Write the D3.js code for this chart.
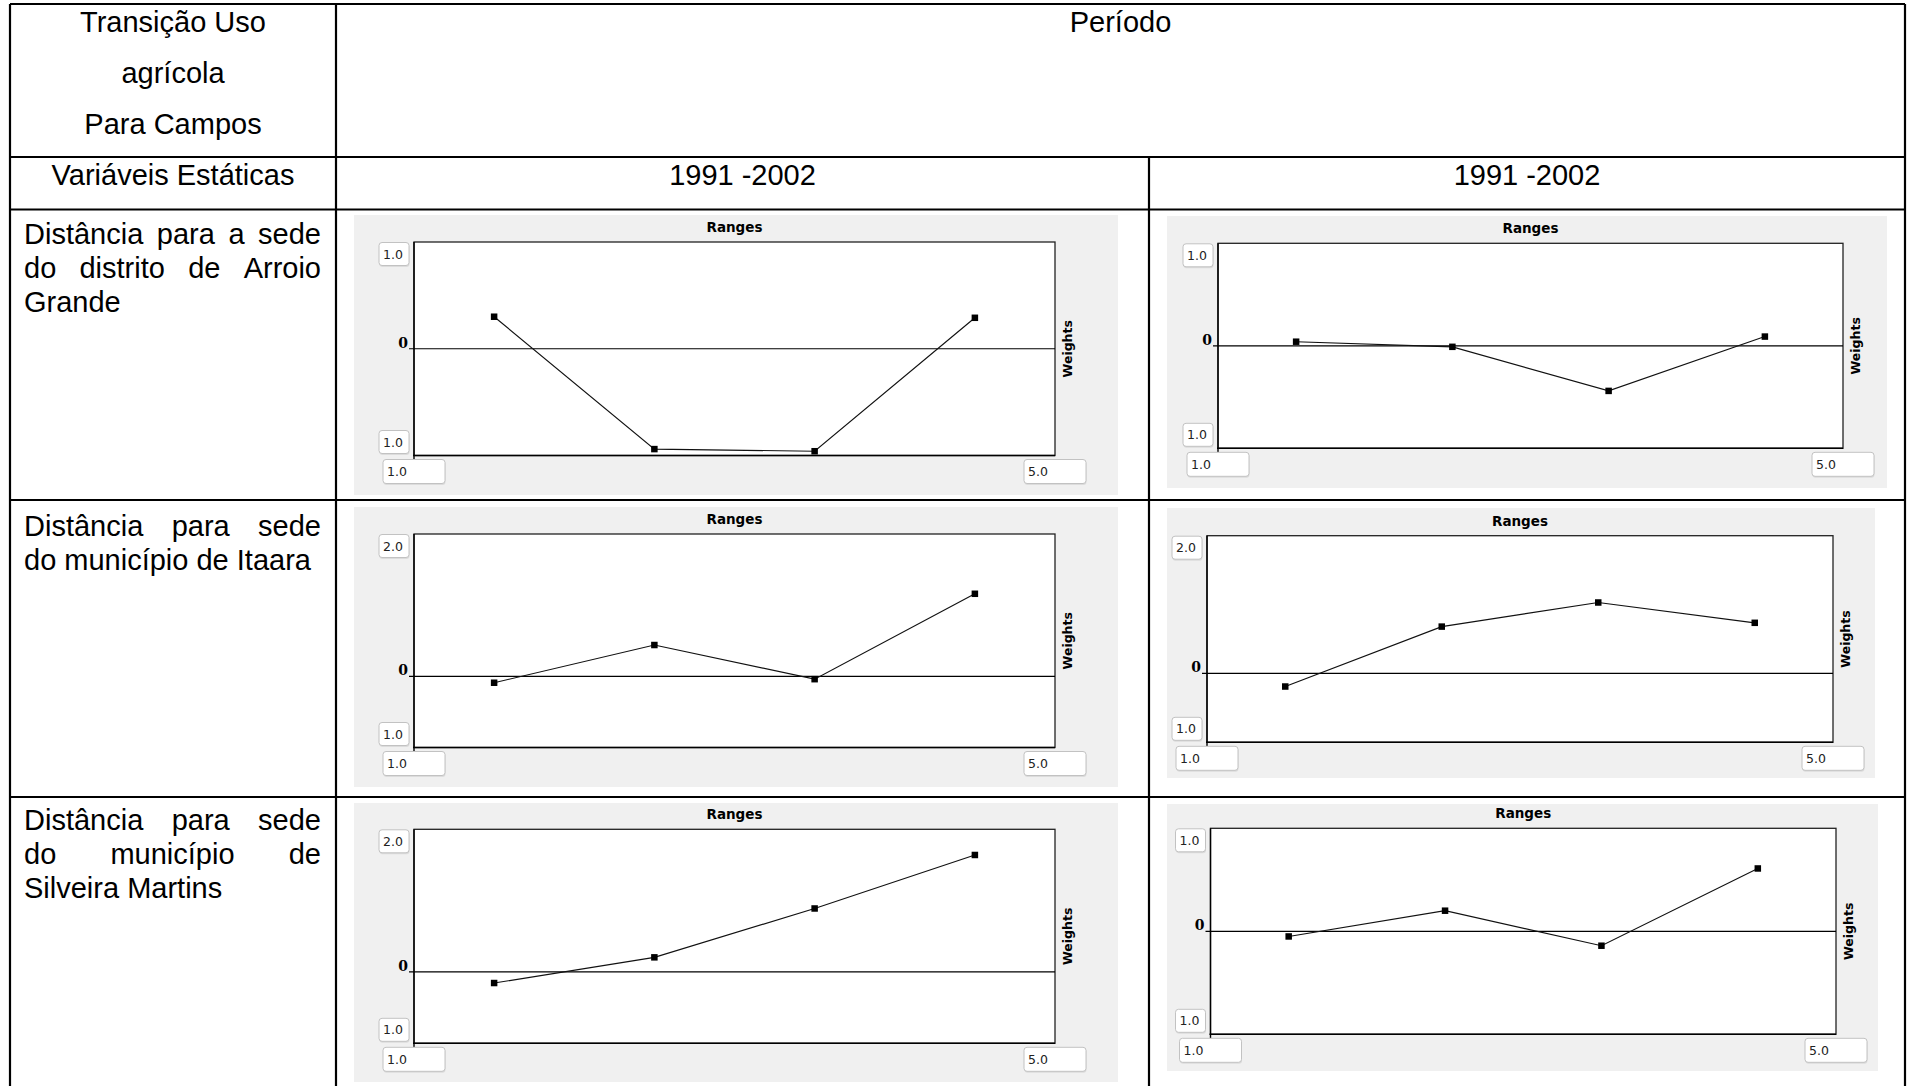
<!DOCTYPE html>
<html lang="pt">
<head>
<meta charset="utf-8">
<title>Transição Uso agrícola para Campos — pesos por faixa</title>
<script src="https://cdn.jsdelivr.net/npm/d3@7/dist/d3.min.js"></script>
<style>
  html, body { margin: 0; padding: 0; background: #fff; }
  svg { display: block; }
  .cell { font-family: "Liberation Sans", Arial, Helvetica, sans-serif; font-size: 29px; fill: #000; }
  .ui { font-family: "DejaVu Sans", Tahoma, Verdana, sans-serif; }
</style>
</head>
<body>
<script>
// ---- Table text ----
const headerLines = ["Transição Uso", "agrícola", "Para Campos"];
const periodTitle = "Período";
const staticVarsTitle = "Variáveis Estáticas";
const periods = ["1991 -2002", "1991 -2002"];

// Row labels: each line, with a flag telling whether it is justified
const rowLabels = [
  [["Distância para a sede", true], ["do distrito de Arroio", true], ["Grande", false]],
  [["Distância para sede", true], ["do município de Itaara", false]],
  [["Distância para sede", true], ["do município de", true], ["Silveira Martins", false]]
];

// ---- Chart values ----
const xDomain = [1.0, 5.0];
const rangeMidpoints = [1.5, 2.5, 3.5, 4.5];
const xTickLabels = ["1.0", "5.0"];
const yMin = -1;
const yMaxValues = [1, 1, 2, 2, 2, 1];
const yTopLabels = ["1.0", "1.0", "2.0", "2.0", "2.0", "1.0"];
const yBottomLabel = "1.0";

// Weights per range (row = variable, column = period)
const weightsArroioGrandeA = [0.30, -0.94, -0.96, 0.29];
const weightsArroioGrandeB = [0.04, -0.01, -0.44, 0.09];
const weightsItaaraA = [-0.09, 0.44, -0.04, 1.16];
const weightsItaaraB = [-0.19, 0.68, 1.03, 0.735];
const weightsSilveiraA = [-0.155, 0.205, 0.89, 1.64];
const weightsSilveiraB = [-0.05, 0.20, -0.14, 0.61];

const panelSeries = [
  weightsArroioGrandeA, weightsArroioGrandeB,
  weightsItaaraA, weightsItaaraB,
  weightsSilveiraA, weightsSilveiraB
];

// ---- Layout ----
const W = 1908, H = 1086;
const svg = d3.select("body").append("svg").attr("width", W).attr("height", H);

const tbl = { left: 10, right: 1905, top: 4, col1: 336, col2: 1149,
              rows: [157, 209.5, 500, 797], bottom: H + 2 };

// panel frames: grey window and inner plot box
const panelFrames = [
  { bg: [354, 215, 1118, 495], plot: [414, 242, 1055, 455.5] },
  { bg: [1167, 216, 1887, 488], plot: [1218, 243.3, 1843, 448.3] },
  { bg: [354, 507, 1118, 787], plot: [414, 534, 1055, 747.5] },
  { bg: [1167, 508, 1875, 778], plot: [1207, 535.7, 1833, 742.3] },
  { bg: [354, 803, 1118, 1082], plot: [414, 829.3, 1055, 1043.3] },
  { bg: [1167, 804, 1878, 1071], plot: [1210.5, 828.3, 1836, 1034.3] }
];

// ---- Charts ----
panelFrames.forEach((f, i) => {
  const g = svg.append("g").attr("class", "panel");
  const [bx0, by0, bx1, by1] = f.bg;
  const [pl, pt, pr, pb] = f.plot;

  g.append("rect").attr("x", bx0).attr("y", by0)
    .attr("width", bx1 - bx0).attr("height", by1 - by0).attr("fill", "#f0f0f0");

  const x = d3.scaleLinear().domain(xDomain).range([pl, pr]);
  const y = d3.scaleLinear().domain([yMin, yMaxValues[i]]).range([pb, pt]);

  // plot box
  g.append("rect").attr("x", pl).attr("y", pt)
    .attr("width", pr - pl).attr("height", pb - pt)
    .attr("fill", "#fff").attr("stroke", "#222").attr("stroke-width", 1.3);

  // axis lines (left and bottom) drawn a little past the corner
  g.append("line").attr("x1", pl).attr("x2", pl).attr("y1", pt).attr("y2", pb + 4)
    .attr("stroke", "#000").attr("stroke-width", 1.4);
  g.append("line").attr("x1", pl - 1).attr("x2", pr).attr("y1", pb).attr("y2", pb)
    .attr("stroke", "#000").attr("stroke-width", 1.4);

  // zero line with a short tick
  g.append("line").attr("x1", pl - 5).attr("x2", pr).attr("y1", y(0)).attr("y2", y(0))
    .attr("stroke", "#000").attr("stroke-width", 1.2);
  g.append("text").attr("x", pl - 6).attr("y", y(0) - 1)
    .attr("text-anchor", "end").attr("font-size", 14).attr("font-weight", "bold")
    .attr("font-family", "'DejaVu Serif', 'Liberation Serif', serif")
    .attr("fill", "#000").text("0");

  // series line and square markers
  const pts = rangeMidpoints.map((v, k) => [v, panelSeries[i][k]]);
  g.append("path").datum(pts)
    .attr("fill", "none").attr("stroke", "#111").attr("stroke-width", 1.15)
    .attr("d", d3.line().x(d => x(d[0])).y(d => y(d[1])));
  g.selectAll("rect.mk").data(pts).enter().append("rect").attr("class", "mk")
    .attr("x", d => x(d[0]) - 3.25).attr("y", d => y(d[1]) - 3.25)
    .attr("width", 6.5).attr("height", 6.5).attr("fill", "#000");

  // titles
  g.append("text").attr("class", "ui").attr("x", (pl + pr) / 2).attr("y", pt - 10)
    .attr("text-anchor", "middle").attr("font-size", 13.5).attr("font-weight", "bold")
    .attr("fill", "#000").text("Ranges");
  g.append("text").attr("class", "ui")
    .attr("transform", `translate(${pr + 17},${(pt + pb) / 2}) rotate(-90)`)
    .attr("text-anchor", "middle").attr("font-size", 12.5).attr("font-weight", "bold")
    .attr("fill", "#000").text("Weights");

  // value boxes
  const box = (bx, by, bw, bh, label) => {
    g.append("rect").attr("x", bx + 0.5).attr("y", by + 1.5).attr("width", bw).attr("height", bh)
      .attr("rx", 3).attr("fill", "#dcdcdc");
    g.append("rect").attr("x", bx).attr("y", by).attr("width", bw).attr("height", bh)
      .attr("rx", 3).attr("fill", "#fff").attr("stroke", "#c2c2c2").attr("stroke-width", 1);
    g.append("text").attr("class", "ui").attr("x", bx + 4).attr("y", by + bh / 2 + 4.5)
      .attr("font-size", 12.5).attr("fill", "#222").text(label);
  };
  box(pl - 35, pt + 0.5, 30, 23, yTopLabels[i]);
  box(pl - 35, pb - 25, 30, 23, yBottomLabel);
  box(x(xDomain[0]) - 31, pb + 4, 62, 24, xTickLabels[0]);
  box(x(xDomain[1]) - 31, pb + 4, 62, 24, xTickLabels[1]);
});

// ---- Table grid ----
const grid = svg.append("g").attr("stroke", "#000").attr("stroke-width", 2.2);
grid.append("line").attr("x1", tbl.left).attr("x2", tbl.right).attr("y1", tbl.top).attr("y2", tbl.top);
tbl.rows.forEach(r => grid.append("line").attr("x1", tbl.left).attr("x2", tbl.right).attr("y1", r).attr("y2", r));
grid.append("line").attr("x1", tbl.left).attr("x2", tbl.left).attr("y1", tbl.top).attr("y2", tbl.bottom);
grid.append("line").attr("x1", tbl.right).attr("x2", tbl.right).attr("y1", tbl.top).attr("y2", tbl.bottom);
grid.append("line").attr("x1", tbl.col1).attr("x2", tbl.col1).attr("y1", tbl.top).attr("y2", tbl.bottom);
grid.append("line").attr("x1", tbl.col2).attr("x2", tbl.col2).attr("y1", tbl.rows[0]).attr("y2", tbl.bottom);

// ---- Table text ----
const txt = svg.append("g");
const c1mid = (tbl.left + tbl.col1) / 2;
headerLines.forEach((s, k) => {
  txt.append("text").attr("class", "cell").attr("x", c1mid).attr("y", 32 + k * 51)
    .attr("text-anchor", "middle").text(s);
});
txt.append("text").attr("class", "cell").attr("x", (tbl.col1 + tbl.right) / 2).attr("y", 32)
  .attr("text-anchor", "middle").text(periodTitle);
txt.append("text").attr("class", "cell").attr("x", c1mid).attr("y", 185)
  .attr("text-anchor", "middle").text(staticVarsTitle);
periods.forEach((p, k) => {
  const a = k === 0 ? tbl.col1 : tbl.col2;
  const b = k === 0 ? tbl.col2 : tbl.right;
  txt.append("text").attr("class", "cell").attr("x", (a + b) / 2).attr("y", 185)
    .attr("text-anchor", "middle").text(p);
});

// justified row labels in the first column
const labelLeft = 24, labelRight = 321;
const firstBaselines = [244, 536, 830];
const lineStep = 34;
const measure = txt.append("text").attr("class", "cell").attr("visibility", "hidden");
const wordWidth = w => { measure.text(w); return measure.node().getComputedTextLength(); };

rowLabels.forEach((lines, r) => {
  lines.forEach(([line, justify], k) => {
    const by = firstBaselines[r] + k * lineStep;
    if (!justify) {
      txt.append("text").attr("class", "cell").attr("x", labelLeft).attr("y", by).text(line);
      return;
    }
    const words = line.split(" ");
    const widths = words.map(wordWidth);
    const gap = (labelRight - labelLeft - d3.sum(widths)) / (words.length - 1);
    let cx = labelLeft;
    words.forEach((w, j) => {
      txt.append("text").attr("class", "cell").attr("x", cx).attr("y", by).text(w);
      cx += widths[j] + gap;
    });
  });
});
measure.remove();
</script>
</body>
</html>
